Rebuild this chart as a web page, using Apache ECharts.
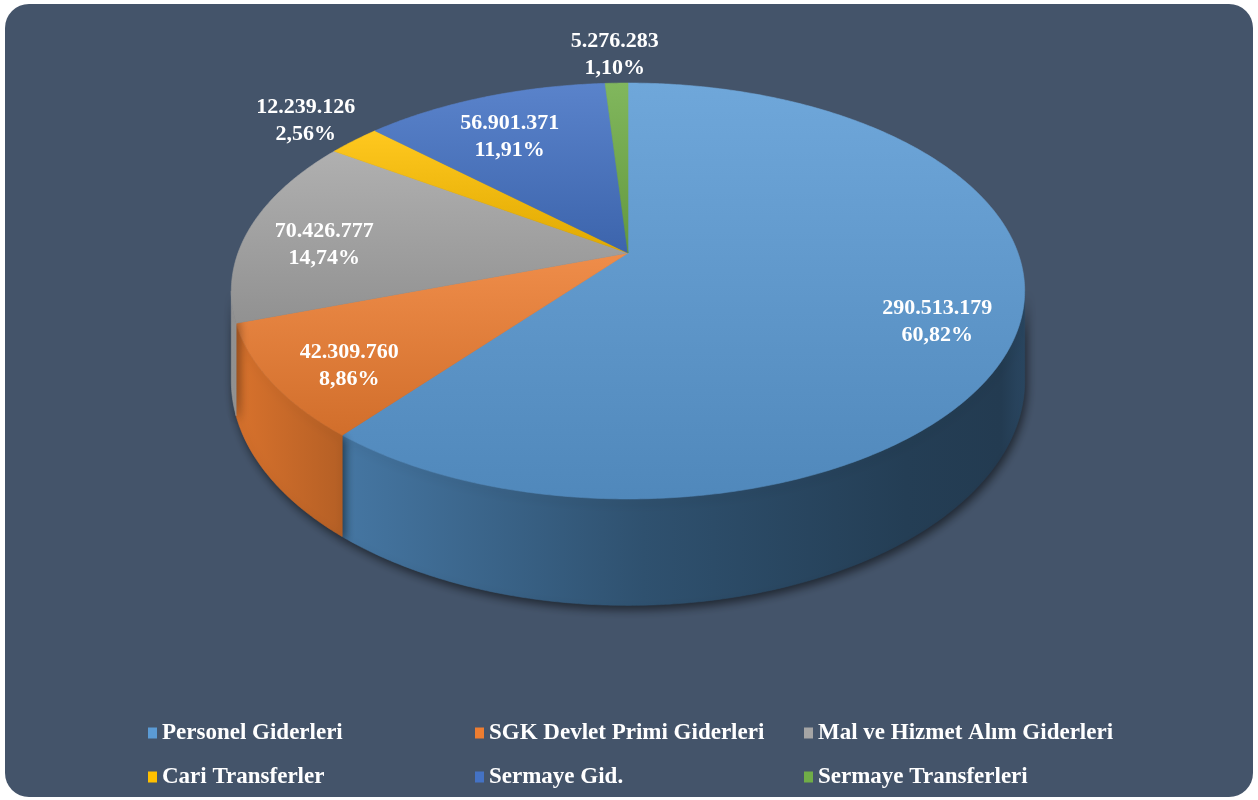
<!DOCTYPE html>
<html>
<head>
<meta charset="utf-8">
<script src="https://cdn.jsdelivr.net/npm/echarts@6/dist/echarts.min.js"></script>
<style>
  html, body { margin: 0; padding: 0; background: #fff; }
  #chart { width: 1258px; height: 800px; }
</style>
</head>
<body>
<div id="chart"></div>
<script>
const categories = ['Personel Giderleri', 'SGK Devlet Primi Giderleri', 'Mal ve Hizmet Alım Giderleri',
                    'Cari Transferler', 'Sermaye Gid.', 'Sermaye Transferleri'];
const values = [290513179, 42309760, 70426777, 12239126, 56901371, 5276283];
const colors = ['#5b9bd5', '#ed7d31', '#a5a5a5', '#ffc000', '#4472c4', '#70ad47'];

const total = values.reduce((a, b) => a + b, 0);

// perspective pie geometry
const CX = 628, CY = 253, RX = 390, RY = 201, K = 0.1827, DEPTH = 87;
const SIDE_MIN = Math.acos(-K), SIDE_MAX = 2 * Math.PI - SIDE_MIN;

function proj(t, r) {
  const d = 1 + K * r * Math.cos(t);
  return [CX + RX * r * Math.sin(t) / d, CY - RY * r * Math.cos(t) / d];
}

function hexRgb(h) {
  return [parseInt(h.slice(1, 3), 16), parseInt(h.slice(3, 5), 16), parseInt(h.slice(5, 7), 16)];
}
function shade(h, f) {
  return 'rgb(' + hexRgb(h).map(c => Math.round(Math.min(255, c * f))).join(',') + ')';
}
function tint(h, f) {
  return 'rgb(' + hexRgb(h).map(c => Math.round(c + (255 - c) * f)).join(',') + ')';
}
function fmtNum(v) {
  return String(v).replace(/\B(?=(\d{3})+(?!\d))/g, '.');
}

function arcPts(a0, a1, r) {
  const pts = [];
  const n = Math.max(2, Math.ceil((a1 - a0) / (Math.PI / 360)));
  for (let i = 0; i <= n; i++) pts.push(proj(a0 + (a1 - a0) * i / n, r));
  return pts;
}

function renderSlice(params, api) {
  const i = params.seriesIndex;
  const v = api.value(0);
  let before = 0;
  for (let j = 0; j < i; j++) before += values[j];
  const a0 = before / total * 2 * Math.PI;
  const a1 = (before + v) / total * 2 * Math.PI;
  const base = colors[i];
  const children = [];

  // side wall (front part only)
  const s0 = Math.max(a0, SIDE_MIN), s1 = Math.min(a1, SIDE_MAX);
  if (s1 > s0) {
    const topRim = arcPts(s0, s1, 1);
    const n = topRim.length - 1;
    const bottom = [];
    for (let k = n; k >= 0; k--) {
      const t = s0 + (s1 - s0) * k / n;
      const p = topRim[k];
      bottom.push([p[0], p[1] + DEPTH / (1 + K * Math.cos(t))]);
    }
    const sideFill = {
      type: 'linear', x: 230, y: 0, x2: 1025, y2: 0, global: true,
      colorStops: [
        { offset: 0, color: shade(base, 0.92) },
        { offset: 0.145, color: shade(base, 0.76) },
        { offset: 0.52, color: shade(base, 0.52) },
        { offset: 0.85, color: shade(base, 0.40) },
        { offset: 0.97, color: shade(base, 0.38) },
        { offset: 1, color: shade(base, 0.46) }
      ]
    };
    children.push({
      type: 'polygon',
      shape: { points: topRim.concat(bottom) },
      style: { fill: sideFill, stroke: sideFill, lineWidth: 0.6,
               shadowBlur: 10, shadowColor: 'rgba(0,0,0,0.55)', shadowOffsetY: 4, shadowOffsetX: 2 }
    });
  }

  // top face
  const topFill = {
    type: 'linear', x: 0, y: 0, x2: 0, y2: 1,
    colorStops: [
      { offset: 0, color: tint(base, 0.12) },
      { offset: 1, color: shade(base, 0.88) }
    ]
  };
  children.push({
    type: 'polygon',
    shape: { points: [[CX, CY]].concat(arcPts(a0, a1, 1)) },
    style: { fill: topFill, stroke: topFill, lineWidth: 0.6 }
  });

  // label
  const pct = v / total;
  const mid = (a0 + a1) / 2;
  const inside = pct >= 0.03;
  const lp = proj(mid, inside ? 0.8 : 1.2);
  children.push({
    type: 'text',
    z2: 100,
    x: lp[0],
    y: lp[1] + (inside ? 12 : 0),
    style: {
      text: fmtNum(v) + '\n' + (pct * 100).toFixed(2).replace('.', ',') + '%',
      fill: '#ffffff',
      font: 'bold 22px "Liberation Serif", "Times New Roman", serif',
      lineHeight: 27,
      align: 'center',
      verticalAlign: 'middle'
    }
  });

  return { type: 'group', children: children };
}

const chart = echarts.init(document.getElementById('chart'));

const legendText = {
  color: '#ffffff',
  fontFamily: '"Liberation Serif", "Times New Roman", serif',
  fontWeight: 'bold',
  fontSize: 23,
  lineHeight: 26
};
function columnLegend(left, names) {
  return {
    orient: 'vertical',
    left: left,
    top: 715,
    itemWidth: 9,
    itemHeight: 11,
    itemGap: 18,
    icon: 'rect',
    selectedMode: false,
    textStyle: legendText,
    data: names
  };
}

const option = {
  backgroundColor: '#ffffff',
  animation: false,
  graphic: [{
    type: 'rect',
    z: -10,
    left: 5,
    top: 4,
    shape: { width: 1248, height: 793, r: 24 },
    style: { fill: '#44546a' }
  }],
  legend: [
    columnLegend(143, [categories[0], categories[3]]),
    columnLegend(470, [categories[1], categories[4]]),
    columnLegend(799, [categories[2], categories[5]])
  ],
  series: categories.map((name, i) => ({
    type: 'custom',
    name: name,
    coordinateSystem: 'none',
    color: colors[i],
    renderItem: renderSlice,
    data: [[values[i]]]
  }))
};

chart.setOption(option);
</script>
</body>
</html>
